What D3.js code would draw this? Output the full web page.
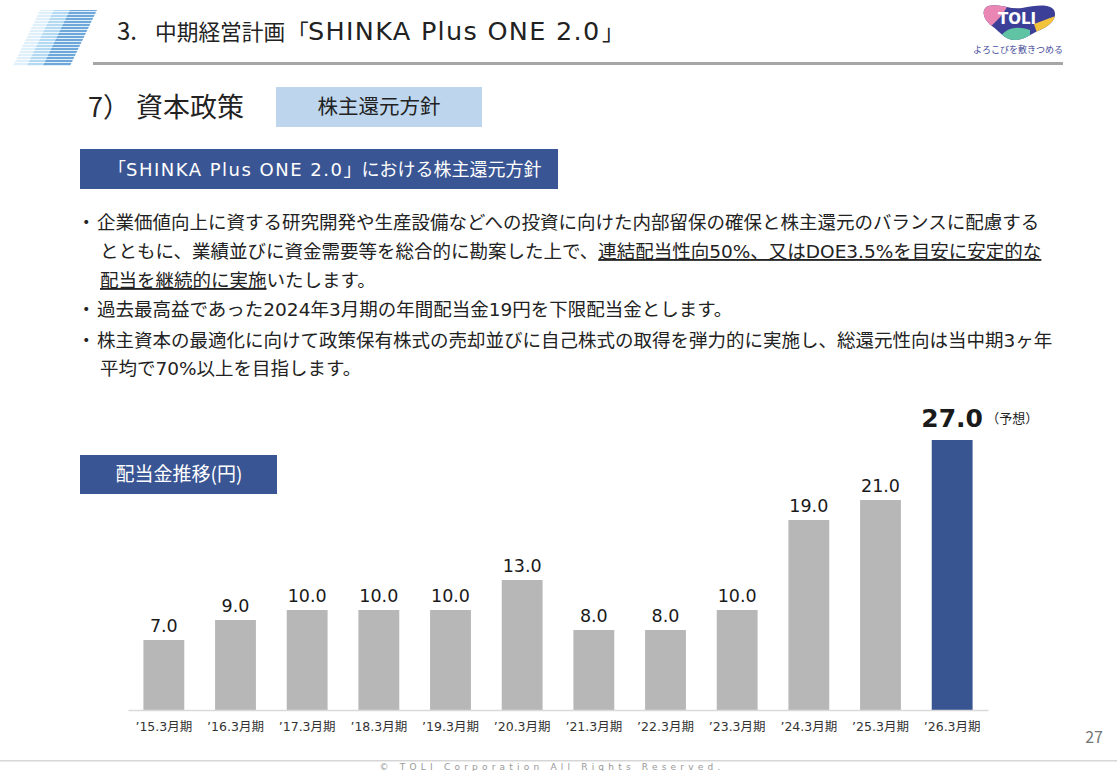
<!DOCTYPE html>
<html><head><meta charset="utf-8">
<script src="https://cdn.jsdelivr.net/npm/d3@7"></script>
<style>
body{margin:0;background:#fff;}
svg{display:block;font-family:"DejaVu Sans","Noto Sans CJK JP",sans-serif;}
.cjk{font-family:"Noto Sans CJK JP",sans-serif;}
</style></head>
<body>
<svg id="c" width="1117" height="771"></svg>
<script>
const categories = ["’15.3月期","’16.3月期","’17.3月期","’18.3月期","’19.3月期","’20.3月期","’21.3月期","’22.3月期","’23.3月期","’24.3月期","’25.3月期","’26.3月期"];
const dividends = [7.0, 9.0, 10.0, 10.0, 10.0, 13.0, 8.0, 8.0, 10.0, 19.0, 21.0, 27.0];
const forecastFlags = [false,false,false,false,false,false,false,false,false,false,false,true];

const svg = d3.select("#c");
const W = 1117, H = 771;
svg.append("rect").attr("width",W).attr("height",H).attr("fill","#fff");

// header stripe graphic
const defs = svg.append("defs");
function stripePattern(id, color){
  const p = defs.append("pattern").attr("id",id).attr("patternUnits","userSpaceOnUse").attr("width",4).attr("height",3);
  p.append("rect").attr("width",4).attr("height",2.2).attr("fill",color);
}
stripePattern("s1","#dff0fa");
stripePattern("s2","#b4d9f2");
stripePattern("s3","#6ea8da");
const band = (x0,x1,fill)=>svg.append("path")
  .attr("d",`M${x0},10 L${x1},10 L${x1-27},66 L${x0-27},66 Z`).attr("fill",fill);
band(40,56,"url(#s1)");
band(54,72,"url(#s2)");
band(70,97,"url(#s3)");

// title
const tt = svg.append("text").attr("y",40).attr("fill","#222");
tt.append("tspan").attr("x",117).attr("class","cjk").attr("font-size",24).text("3.");
tt.append("tspan").attr("x",155).attr("class","cjk").attr("font-size",21.7).text("中期経営計画");
tt.append("tspan").attr("x",287).attr("class","cjk").attr("font-size",21.7).text("「");
tt.append("tspan").attr("x",308).attr("font-size",25.5).attr("letter-spacing",1.3).text("SHINKA Plus ONE 2.0");
tt.append("tspan").attr("x",602).attr("class","cjk").attr("font-size",21.7).text("」");
svg.append("rect").attr("x",93).attr("y",62).attr("width",970).attr("height",3).attr("fill","#a6a6a6");

// logo
const blob = "M988,6 C1000,3 1010,10 1022,8 C1035,6 1048,3 1054,10 C1058,18 1050,26 1040,30 C1030,34 1025,40 1015,40 C1005,40 1000,32 992,26 C984,20 980,10 988,6 Z";
defs.append("clipPath").attr("id","blobclip").append("path").attr("d",blob);
const lg = svg.append("g");
lg.append("path").attr("d",blob).attr("fill","#3c3f97");
const lc = lg.append("g").attr("clip-path","url(#blobclip)");
lc.append("path").attr("d","M978,0 L1010,0 C1006,12 998,20 990,27 L978,27 Z").attr("fill","#e986b3");
lc.append("path").attr("d","M1034,24 C1044,20 1052,17 1062,14 L1062,42 L1040,42 Z").attr("fill","#f3c33c");
lc.append("path").attr("d","M998,44 C1000,30 1014,24 1030,30 L1030,46 L998,46 Z").attr("fill","#5fc3a4");
lg.append("text").attr("x",1017).attr("y",24).attr("text-anchor","middle").attr("font-size",15).attr("font-weight","bold")
  .attr("fill","#fff").text("TOLI");
lg.append("text").attr("x",1018).attr("y",53).attr("text-anchor","middle").attr("class","cjk").attr("font-size",9).attr("fill","#4a4e9a")
  .text("よろこびを敷きつめる");

// section heading
const sh = svg.append("text").attr("y",117).attr("font-size",27).attr("fill","#222");
sh.append("tspan").attr("x",88).attr("class","cjk").text("7）");
sh.append("tspan").attr("x",136).attr("class","cjk").text("資本政策");
svg.append("rect").attr("x",276).attr("y",87).attr("width",206).attr("height",40).attr("fill","#bdd6ee");
svg.append("text").attr("x",379).attr("y",114).attr("text-anchor","middle").attr("class","cjk").attr("font-size",20.5).attr("fill","#222").text("株主還元方針");

svg.append("rect").attr("x",80).attr("y",149).attr("width",478).attr("height",40).attr("fill","#3a5593");
const bt = svg.append("text").attr("x",108).attr("y",176).attr("font-size",18).attr("fill","#fff");
bt.append("tspan").attr("class","cjk").text("「");
bt.append("tspan").attr("letter-spacing",1.5).text("SHINKA Plus ONE 2.0");
bt.append("tspan").attr("class","cjk").text("」における株主還元方針");

// bullets
const fs = 18.5;
function line(x,y,parts){
  const t = svg.append("text").attr("x",x).attr("y",y).attr("font-size",fs).attr("fill","#222");
  parts.forEach(p=>{
    const ts = t.append("tspan").text(p.t);
    if(p.u) ts.attr("text-decoration","underline");
  });
  return t;
}
svg.selectAll("text.bul").data([229,316,347]).join("text").attr("class","bul cjk")
  .attr("x",77).attr("y",d=>d).attr("font-size",fs).attr("fill","#222").text("・");
line(97,229,[{t:"企業価値向上に資する研究開発や生産設備などへの投資に向けた内部留保の確保と株主還元のバランスに配慮する"}]);
line(100,258,[{t:"とともに、業績並びに資金需要等を総合的に勘案した上で、"},{t:"連結配当性向50%、又はDOE3.5%を目安に安定的な",u:true}]);
line(100,287,[{t:"配当を継続的に実施",u:true},{t:"いたします。"}]);
line(97,316,[{t:"過去最高益であった2024年3月期の年間配当金19円を下限配当金とします。"}]);
line(97,347,[{t:"株主資本の最適化に向けて政策保有株式の売却並びに自己株式の取得を弾力的に実施し、総還元性向は当中期3ヶ年"}]);
line(100,375,[{t:"平均で70%以上を目指します。"}]);

// chart title box
svg.append("rect").attr("x",80).attr("y",455).attr("width",197).attr("height",39).attr("fill","#3a5593");
svg.append("text").attr("x",179).attr("y",481).attr("text-anchor","middle").attr("class","cjk").attr("font-size",19).attr("fill","#fff").text("配当金推移(円)");

// chart
const x = d3.scaleBand().domain(categories).range([128,988]).paddingInner(0.43).paddingOuter(0.215);
const y = d3.scaleLinear().domain([0,27]).range([710,440]);

svg.append("g").selectAll("rect").data(dividends).join("rect")
  .attr("x",(d,i)=>x(categories[i])).attr("width",x.bandwidth())
  .attr("y",d=>y(d)).attr("height",d=>y(0)-y(d))
  .attr("fill",(d,i)=>forecastFlags[i]?"#395591":"#b7b7b7");

const xAxis = svg.append("g").attr("transform",`translate(0,${y(0)})`)
  .call(d3.axisBottom(x).tickSize(0).tickPadding(12));
xAxis.select(".domain").attr("stroke","#d9d9d9").attr("stroke-width",1.5);
xAxis.selectAll("text").attr("font-size",12.5).attr("fill","#333").attr("font-family","\"DejaVu Sans\",\"Noto Sans CJK JP\",sans-serif");

svg.append("g").selectAll("text").data(dividends).join("text")
  .attr("x",(d,i)=>x(categories[i])+x.bandwidth()/2)
  .attr("y",(d,i)=>y(d)-(forecastFlags[i]?13:8))
  .attr("text-anchor","middle")
  .attr("font-size",(d,i)=>forecastFlags[i]?25:17.5)
  .attr("font-weight",(d,i)=>forecastFlags[i]?"bold":"normal")
  .attr("fill","#1a1a1a")
  .text(d=>d.toFixed(1));
const fi = forecastFlags.indexOf(true);
svg.append("text").attr("x",x(categories[fi])+x.bandwidth()/2+34).attr("y",y(dividends[fi])-17)
  .attr("class","cjk").attr("font-size",13).attr("fill","#222").text("（予想）");

// page number and footer
svg.append("text").attr("x",1103).attr("y",743).attr("text-anchor","end").attr("class","cjk").attr("font-size",16).attr("fill","#777").text("27");
svg.append("rect").attr("x",0).attr("y",760).attr("width",W).attr("height",1.5).attr("fill","#d6d6d6");
svg.append("text").attr("x",552).attr("y",770).attr("text-anchor","middle").attr("font-size",9).attr("letter-spacing",4.2)
  .attr("fill","#999").text("© TOLI Corporation All Rights Reserved.");
</script>
</body></html>
